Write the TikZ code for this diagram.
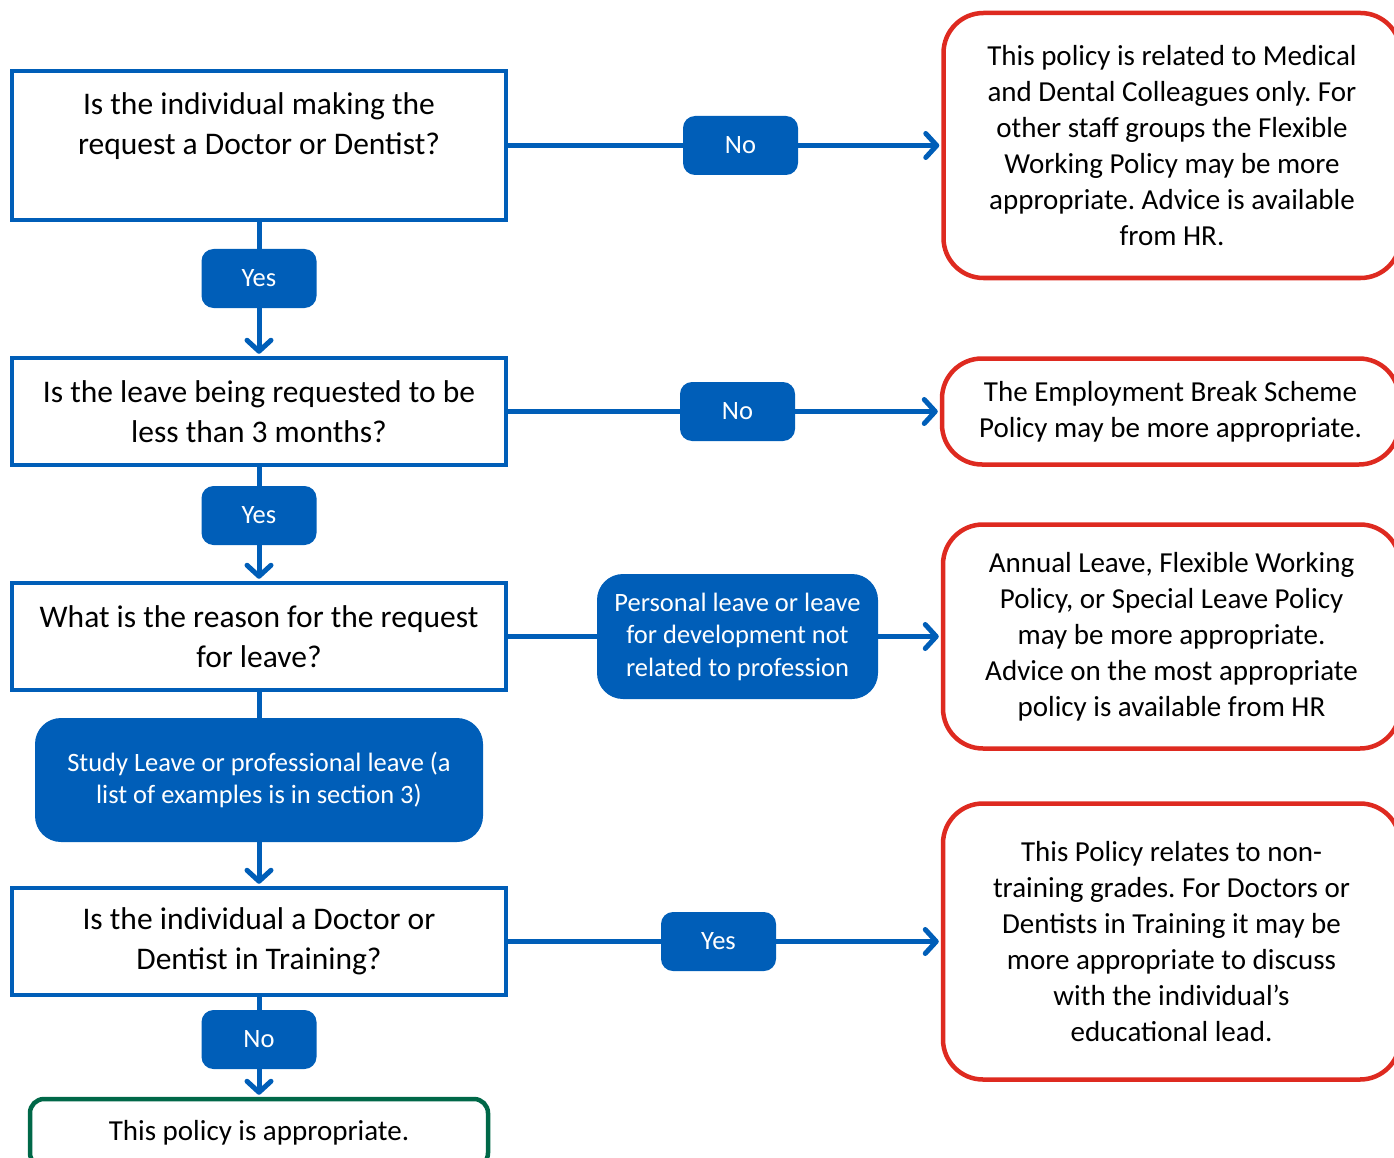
\documentclass[tikz,border=0pt]{standalone}
\usepackage{fontspec}
\setmainfont{Carlito}
\frenchspacing
\usetikzlibrary{arrows.meta,positioning}
\definecolor{nhsblue}{RGB}{0,94,184}
\definecolor{stopred}{RGB}{222,42,32}
\definecolor{okgreen}{RGB}{0,104,72}
\tikzset{
  qbox/.style   = { draw=nhsblue, line width=4.5pt, fill=white, align=center, inner sep=0pt,
    minimum width=494pt, minimum height=107pt, font=\fontsize{31.5pt}{39.5pt}\selectfont },
  ans/.style    = { fill=nhsblue, text=white, rounded corners=12pt, align=center, inner sep=0pt,
    minimum width=115pt, minimum height=59pt, font=\fontsize{26.5pt}{32.5pt}\selectfont },
  bigans/.style = { ans, rounded corners=26pt },
  endbox/.style = { draw=stopred, line width=4.5pt, fill=white, rounded corners=40pt, align=center,
    inner sep=0pt, minimum width=457pt, font=\fontsize{29pt}{36pt}\selectfont },
  okbox/.style  = { draw=okgreen, line width=4.5pt, fill=white, rounded corners=14pt, align=center,
    inner sep=0pt, minimum width=458pt, minimum height=68pt, font=\fontsize{29pt}{36pt}\selectfont },
  conn/.style   = { draw=nhsblue, line width=5pt },
  flow/.style   = { conn, -{Straight Barb[length=11pt,width=24pt,round]}, shorten >=2pt }
}

\begin{document}
\begin{tikzpicture}[x=1pt,y=1pt,on grid]
  \path[use as bounding box, clip] (0,0) rectangle (1394,-1158);
  % left column: the questions
  \node[qbox, minimum height=149pt, text depth=44pt] (q1) at (259,-145.5)
    {Is the individual making the\\request a Doctor or Dentist?};
  \node[ans, below=133pt of q1] (yes1) {Yes};
  \node[qbox, below=133pt of yes1] (q2) {Is the leave being requested to be\\less than 3 months?};
  \node[ans, below=104pt of q2] (yes2) {Yes};
  \node[qbox, below=121pt of yes2] (q3) {What is the reason for the request\\for leave?};
  \node[bigans, minimum width=448pt, minimum height=124pt, below=143.5pt of q3] (study)
    {Study Leave or professional leave (a\\list of examples is in section 3)};
  \node[qbox, below=161.5pt of study] (q4) {Is the individual a Doctor or\\Dentist in Training?};
  \node[ans, below=98pt of q4] (no4) {No};
  \node[okbox, below=93.5pt of no4] (ok) {This policy is appropriate.};
  % right column: the other policies
  \node[ans, right=481.5pt of q1] (no1) {No};
  \node[endbox, minimum height=265pt, right=431.5pt of no1] (r1)
    {This policy is related to Medical\\and Dental Colleagues only. For\\other staff groups the Flexible\\Working Policy may be more\\appropriate. Advice is available\\from HR.};
  \node[ans, right=478.5pt of q2] (no2) {No};
  \node[endbox, minimum height=106pt, right=433pt of no2] (r2)
    {The Employment Break Scheme\\Policy may be more appropriate.};
  \node[bigans, minimum width=281pt, minimum height=125pt, right=478.5pt of q3] (pers)
    {Personal leave or leave\\for development not\\related to profession};
  \node[endbox, minimum height=224pt, right=434pt of pers] (r3)
    {Annual Leave, Flexible Working\\Policy, or Special Leave Policy\\may be more appropriate.\\Advice on the most appropriate\\policy is available from HR};
  \node[ans, right=459.5pt of q4] (yes4) {Yes};
  \node[endbox, minimum height=276pt, right=453pt of yes4] (r4)
    {This Policy relates to non-\\training grades. For Doctors or\\Dentists in Training it may be\\more appropriate to discuss\\with the individual’s\\educational lead.};
  % connectors
  \draw[conn] (q1) -- (yes1);
  \draw[flow] (yes1) -- (q2);
  \draw[conn] (q2) -- (yes2);
  \draw[flow] (yes2) -- (q3);
  \draw[conn] (q3) -- (study);
  \draw[flow] (study) -- (q4);
  \draw[conn] (q4) -- (no4);
  \draw[flow] (no4) -- (ok);
  \draw[conn] (q1) -- (no1);
  \draw[flow] (no1) -- (r1);
  \draw[conn] (q2) -- (no2);
  \draw[flow] (no2) -- (r2);
  \draw[conn] (q3) -- (pers);
  \draw[flow] (pers) -- (r3);
  \draw[conn] (q4) -- (yes4);
  \draw[flow] (yes4) -- (r4);
\end{tikzpicture}
\end{document}
